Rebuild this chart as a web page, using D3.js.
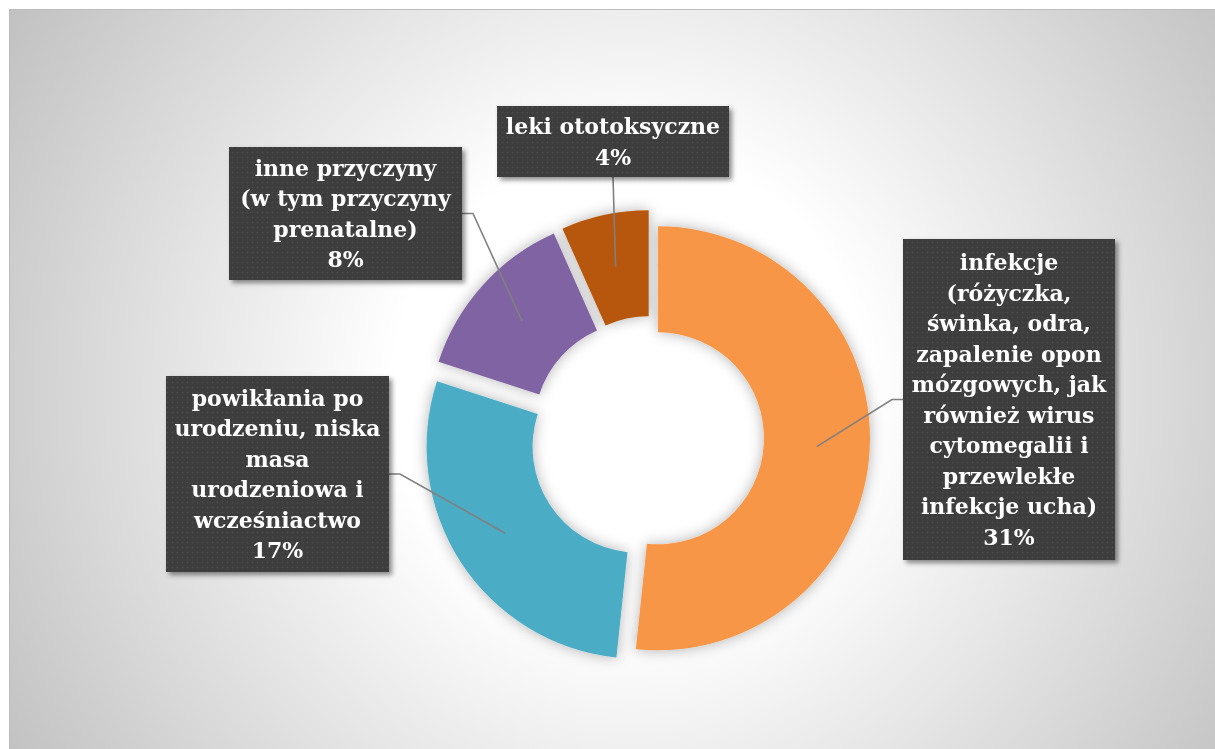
<!DOCTYPE html>
<html lang="pl">
<head>
<meta charset="UTF-8">
<title>Przyczyny</title>
<script src="https://cdnjs.cloudflare.com/ajax/libs/d3/7.8.5/d3.min.js"></script>
<style>
  body { margin: 0; background: #fff; }
  svg { display: block; }
  .lbl text { font-family: "DejaVu Serif", serif; font-weight: bold; fill: #fff; }
</style>
</head>
<body>
<svg width="1215" height="749"></svg>
<script>
"use strict";

// data
const categories = [
    "infekcje\n(różyczka,\nświnka, odra,\nzapalenie opon\nmózgowych, jak\nrównież wirus\ncytomegalii i\nprzewlekłe\ninfekcje ucha)",
    "powikłania po\nurodzeniu, niska\nmasa\nurodzeniowa i\nwcześniactwo",
    "inne przyczyny\n(w tym przyczyny\nprenatalne)",
    "leki ototoksyczne"
];
const values = [31, 17, 8, 4];
const colors = ["#F79646", "#4BACC6", "#8064A2", "#B75709"];

// how far each slice is pulled out
const explode = [6, 16, 16, 16];

// label boxes (placed by hand in the original) and which side the leader meets
const labelBoxes = [
    { x: 903, y: 239, w: 212, h: 321, side: "left" },
    { x: 166, y: 376, w: 223, h: 196, side: "right" },
    { x: 229, y: 147, w: 233, h: 133, side: "right" },
    { x: 497, y: 106, w: 232, h: 71,  side: "bottom" }
];

const svg = d3.select("svg");
const W = +svg.attr("width"), H = +svg.attr("height");
const cx = 652, cy = 438;
const outerR = 212, innerR = 106;
const lineH = 30.5;

const defs = svg.append("defs");

const bg = defs.append("radialGradient")
    .attr("id", "bg").attr("gradientUnits", "userSpaceOnUse")
    .attr("cx", 630).attr("cy", 390).attr("r", 720);
bg.append("stop").attr("offset", 0).attr("stop-color", "#ffffff");
bg.append("stop").attr("offset", 0.33).attr("stop-color", "#ffffff");
bg.append("stop").attr("offset", 1).attr("stop-color", "#c2c2c2");

const pat = defs.append("pattern")
    .attr("id", "dots").attr("patternUnits", "userSpaceOnUse")
    .attr("width", 5).attr("height", 5);
pat.append("rect").attr("width", 5).attr("height", 5).attr("fill", "#3d3d3d");
pat.append("circle").attr("cx", 2.5).attr("cy", 2.5).attr("r", 0.9).attr("fill", "#4b4b4b");

const sliceShadow = defs.append("filter").attr("id", "sliceShadow")
    .attr("x", "-20%").attr("y", "-20%").attr("width", "140%").attr("height", "140%");
sliceShadow.append("feDropShadow")
    .attr("dx", 0).attr("dy", 0).attr("stdDeviation", 7)
    .attr("flood-color", "#000").attr("flood-opacity", 0.3);

const boxShadow = defs.append("filter").attr("id", "boxShadow")
    .attr("x", "-10%").attr("y", "-10%").attr("width", "130%").attr("height", "130%");
boxShadow.append("feDropShadow")
    .attr("dx", 3).attr("dy", 3).attr("stdDeviation", 2.5)
    .attr("flood-color", "#000").attr("flood-opacity", 0.45);

// chart area
svg.append("rect")
    .attr("x", 9.5).attr("y", 9.5).attr("width", W - 9).attr("height", H - 9)
    .attr("fill", "url(#bg)")
    .attr("stroke", "#bcbcbc").attr("stroke-width", 1);

const pie = d3.pie().sort(null).value(d => d)(values);
const arc = d3.arc().innerRadius(innerR).outerRadius(outerR);

function offset(d, i) {
    const a = (d.startAngle + d.endAngle) / 2;
    return [cx + explode[i] * Math.sin(a), cy - explode[i] * Math.cos(a)];
}

svg.append("g")
    .attr("filter", "url(#sliceShadow)")
    .selectAll("path")
    .data(pie)
    .join("path")
    .attr("transform", (d, i) => `translate(${offset(d, i)})`)
    .attr("d", arc)
    .attr("fill", (d, i) => colors[i]);

// leader lines
const leaders = svg.append("g");
pie.forEach((d, i) => {
    const o = offset(d, i);
    const c = arc.centroid(d);
    const p0 = [o[0] + c[0], o[1] + c[1]];
    const b = labelBoxes[i];
    let pts;
    if (b.side === "left") {
        const a = [b.x, b.y + b.h / 2];
        pts = [p0, [a[0] - 11, a[1]], a];
    } else if (b.side === "right") {
        const a = [b.x + b.w, b.y + b.h / 2];
        pts = [p0, [a[0] + 11, a[1]], a];
    } else {
        pts = [p0, [b.x + b.w / 2, b.y + b.h]];
    }
    leaders.append("path")
        .attr("d", d3.line()(pts))
        .attr("fill", "none")
        .attr("stroke", "#808080")
        .attr("stroke-width", 1.6);
});

// label boxes
const lbl = svg.append("g").attr("class", "lbl")
    .selectAll("g")
    .data(pie)
    .join("g");

lbl.append("rect")
    .attr("x", (d, i) => labelBoxes[i].x)
    .attr("y", (d, i) => labelBoxes[i].y)
    .attr("width", (d, i) => labelBoxes[i].w)
    .attr("height", (d, i) => labelBoxes[i].h)
    .attr("fill", "url(#dots)")
    .attr("filter", "url(#boxShadow)");

lbl.each(function (d, i) {
    const b = labelBoxes[i];
    const lines = categories[i].split("\n").concat([values[i] + "%"]);
    const mid = b.y + b.h / 2;
    d3.select(this).selectAll("text")
        .data(lines)
        .join("text")
        .attr("x", b.x + b.w / 2)
        .attr("y", (t, k) => mid + (k - (lines.length - 1) / 2) * lineH)
        .attr("dy", "0.36em")
        .attr("text-anchor", "middle")
        .attr("font-size", 22)
        .text(t => t);
});
</script>
</body>
</html>
